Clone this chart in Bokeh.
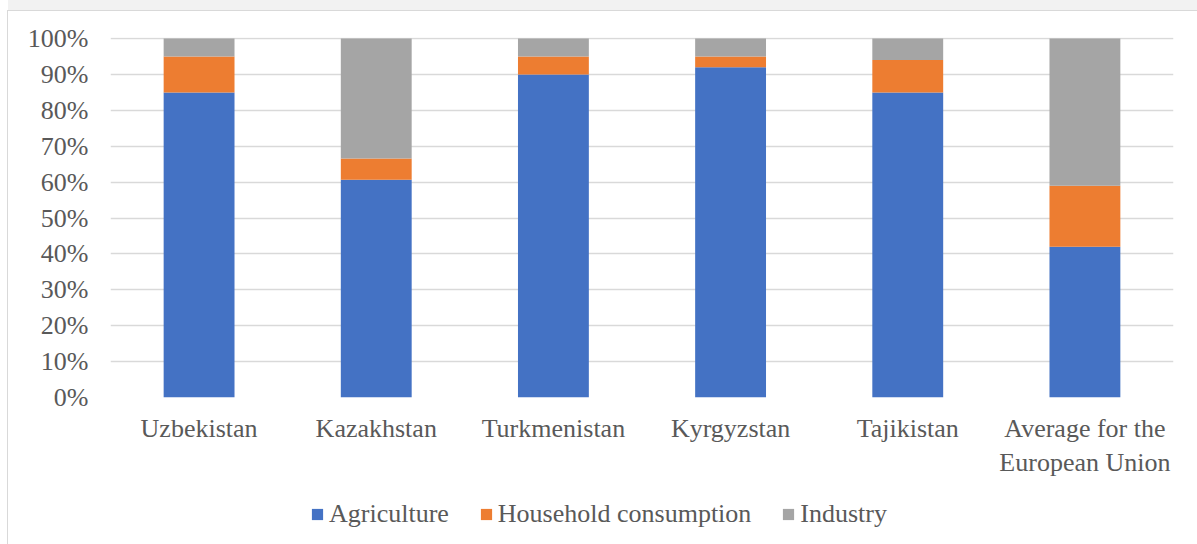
from bokeh.plotting import figure
from bokeh.layouts import column
from bokeh.models import (ColumnDataSource, Legend, LegendItem, NumeralTickFormatter,
                          FixedTicker, Range1d, FactorRange)
from bokeh.embed import file_html
from bokeh.resources import INLINE

countries = ["Uzbekistan", "Kazakhstan", "Turkmenistan", "Kyrgyzstan", "Tajikistan",
             "Average for the\nEuropean Union"]
agriculture = [0.85, 0.607, 0.90, 0.92, 0.85, 0.42]
household = [0.10, 0.059, 0.05, 0.03, 0.09, 0.17]
industry = [0.05, 0.334, 0.05, 0.05, 0.06, 0.41]
series = ["Agriculture", "Household consumption", "Industry"]
colors = ["#4472C4", "#ED7D31", "#A5A5A5"]
y_ticks = [0, 0.1, 0.2, 0.3, 0.4, 0.5, 0.6, 0.7, 0.8, 0.9, 1.0]

FONT = "Liberation Serif"
TXT = "#595959"

source = ColumnDataSource(dict(country=countries, Agriculture=agriculture,
                               **{"Household consumption": household}, Industry=industry))

p = figure(x_range=FactorRange(*countries), y_range=Range1d(0, 1.003),
           width=1190, height=474, output_backend="svg", toolbar_location=None,
           min_border_left=102, min_border_right=25, min_border_top=26, min_border_bottom=88)

rs = p.vbar_stack(series, x="country", width=0.4, color=colors, source=source, line_width=0)

p.xgrid.grid_line_color = None
p.ygrid.grid_line_color = "#D9D9D9"
p.ygrid.grid_line_width = 1.5
p.yaxis.ticker = FixedTicker(ticks=y_ticks)
p.yaxis.formatter = NumeralTickFormatter(format="0%")
for ax in (p.xaxis, p.yaxis):
    ax.axis_line_color = None
    ax.major_tick_line_color = None
    ax.minor_tick_line_color = None
    ax.major_tick_out = 0
    ax.major_tick_in = 0
    ax.major_label_text_font = FONT
    ax.major_label_text_font_size = "26px"
    ax.major_label_text_color = TXT
p.yaxis.major_label_standoff = 22
p.xaxis.major_label_standoff = 16
p.outline_line_color = None

# legend strip below the chart (swatch renderers sit outside the visible range)
pl = figure(x_range=Range1d(0, 1), y_range=Range1d(0, 1), width=1190, height=60,
            output_backend="svg", toolbar_location=None,
            min_border_left=0, min_border_right=0, min_border_top=0, min_border_bottom=0)
pl.axis.visible = False
pl.grid.grid_line_color = None
pl.outline_line_color = None
swatches = [pl.vbar(x=[-5], top=[0], width=0.1, color=c, line_width=0) for c in colors]
legend = Legend(items=[LegendItem(label=s, renderers=[r]) for s, r in zip(series, swatches)],
                orientation="horizontal", location=(200, 16), padding=0, margin=0,
                glyph_width=14, glyph_height=14, label_standoff=5, spacing=30,
                label_text_font=FONT, label_text_font_size="26px", label_text_color=TXT,
                border_line_color=None, background_fill_alpha=0)
pl.add_layout(legend, "center")

layout = column(p, pl, spacing=0,
                styles={"transform": "translate(8px, 11px)", "outline": "1px solid #D9D9D9",
                        "box-shadow": "0 -11px 0 0 #F2F2F2"})

open("out.html", "w").write(file_html(layout, INLINE))
